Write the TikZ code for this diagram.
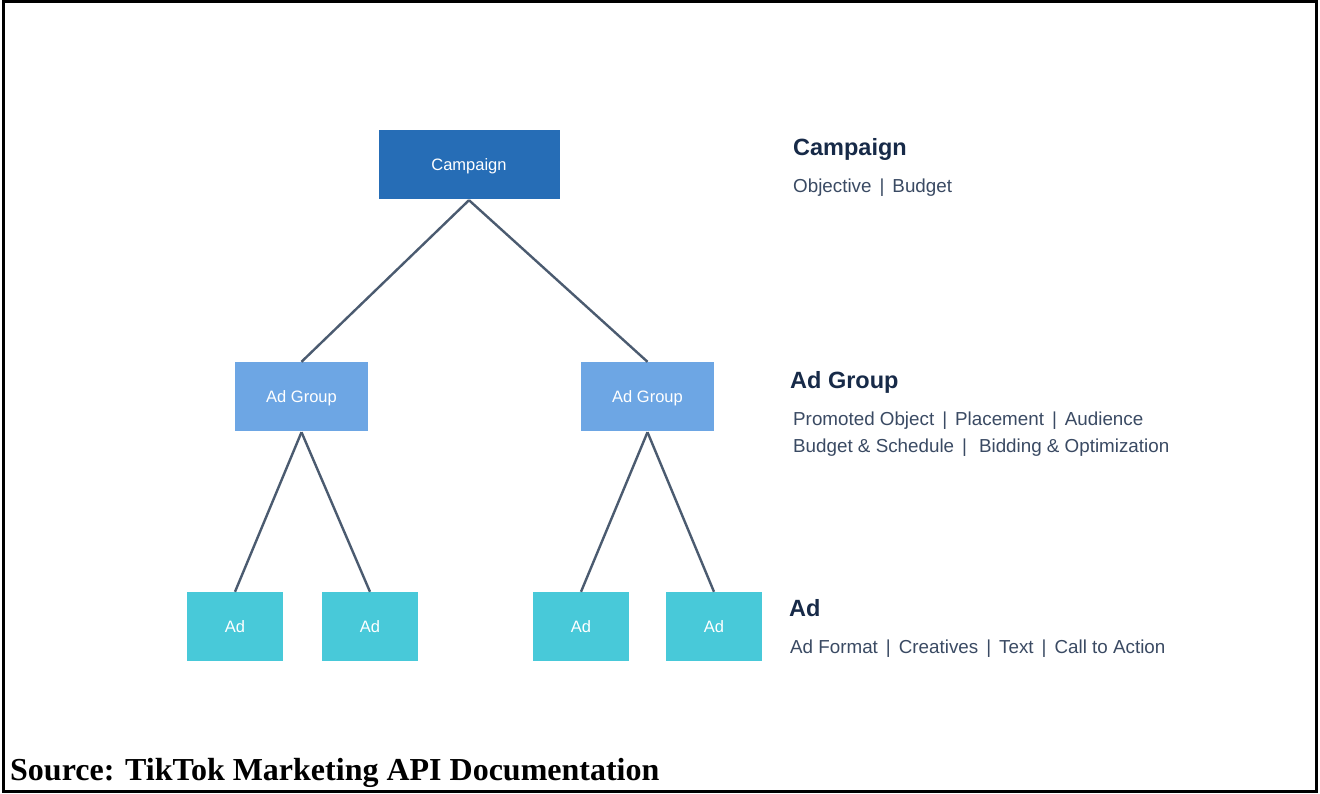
\documentclass[tikz,border=0pt]{standalone}
\usepackage{fontspec}
\setmainfont{Liberation Sans}
\newfontfamily\srcfont{Liberation Serif}
\definecolor{campblue}{HTML}{266DB6}
\definecolor{grpblue}{HTML}{6DA6E4}
\definecolor{adcyan}{HTML}{48C9D9}
\definecolor{linkcol}{HTML}{4B5B70}
\definecolor{headcol}{HTML}{172A48}
\definecolor{subcol}{HTML}{3A4A63}
\newcommand{\sepbar}{\ \hspace{2.8pt}|\hspace{2.8pt}\ }
\begin{document}
\begin{tikzpicture}[x=1pt,y=-1pt,
  boxbase/.style={rectangle,inner sep=0pt,text=white,font=\fontsize{16.5}{18}\selectfont,text height=13.5pt,text depth=2pt},
  campbox/.style={boxbase,fill=campblue,minimum width=181pt,minimum height=69pt},
  grpbox/.style={boxbase,fill=grpblue,minimum width=133pt,minimum height=69pt},
  adbox/.style={boxbase,fill=adcyan,minimum width=96pt,minimum height=69pt},
  link/.style={draw=linkcol,line width=2.4pt},
  heading/.style={anchor=base west,inner sep=0pt,text=headcol,font=\bfseries\fontsize{23.5}{26}\selectfont},
  subtext/.style={anchor=base west,inner sep=0pt,text=subcol,font=\fontsize{18.8}{22}\selectfont},
  source/.style={anchor=base west,inner sep=0pt,text=black,font=\srcfont\bfseries\fontsize{32}{36}\selectfont}]
\useasboundingbox (0,0) rectangle (1320,794);
\fill[white] (0,0) rectangle (1320,794);
\draw[line width=3pt,black] (3.3,1.4) rectangle (1316.8,791);

\node[campbox] (camp) at (469,164.5) {Campaign};
\node[grpbox] (ag1) at (301.5,396.5) {Ad Group};
\node[grpbox] (ag2) at (647.5,396.5) {Ad Group};
\node[adbox] (ad1) at (235,626.5) {Ad};
\node[adbox] (ad2) at (370,626.5) {Ad};
\node[adbox] (ad3) at (581,626.5) {Ad};
\node[adbox] (ad4) at (714,626.5) {Ad};

\draw[link] ([yshift=-1pt]camp.south) -- (ag1.north);
\draw[link] ([yshift=-1pt]camp.south) -- (ag2.north);
\draw[link] ([yshift=-1pt]ag1.south) -- (ad1.north);
\draw[link] ([yshift=-1pt]ag1.south) -- (ad2.north);
\draw[link] ([yshift=-1pt]ag2.south) -- (ad3.north);
\draw[link] ([yshift=-1pt]ag2.south) -- (ad4.north);

\node[heading] (h1) at (793,156) {Campaign};
\node[subtext] (s1) at (793,193) {Objective\sepbar Budget};
\node[heading] (h2) at (790,388) {Ad Group};
\node[subtext] (s2) at (793,425) {Promoted Object\sepbar Placement\sepbar Audience};
\node[subtext] (s3) at (793,452) {Budget \& Schedule\ \hspace{2.8pt}|\hspace{12pt}Bidding \& Optimization};
\node[heading] (h3) at (789,616) {Ad};
\node[subtext] (s4) at (790,653) {Ad Format\sepbar Creatives\sepbar Text\sepbar Call to Action};

\node[source] (src) at (10,780) {Source: TikTok Marketing API Documentation};
\end{tikzpicture}
\end{document}
